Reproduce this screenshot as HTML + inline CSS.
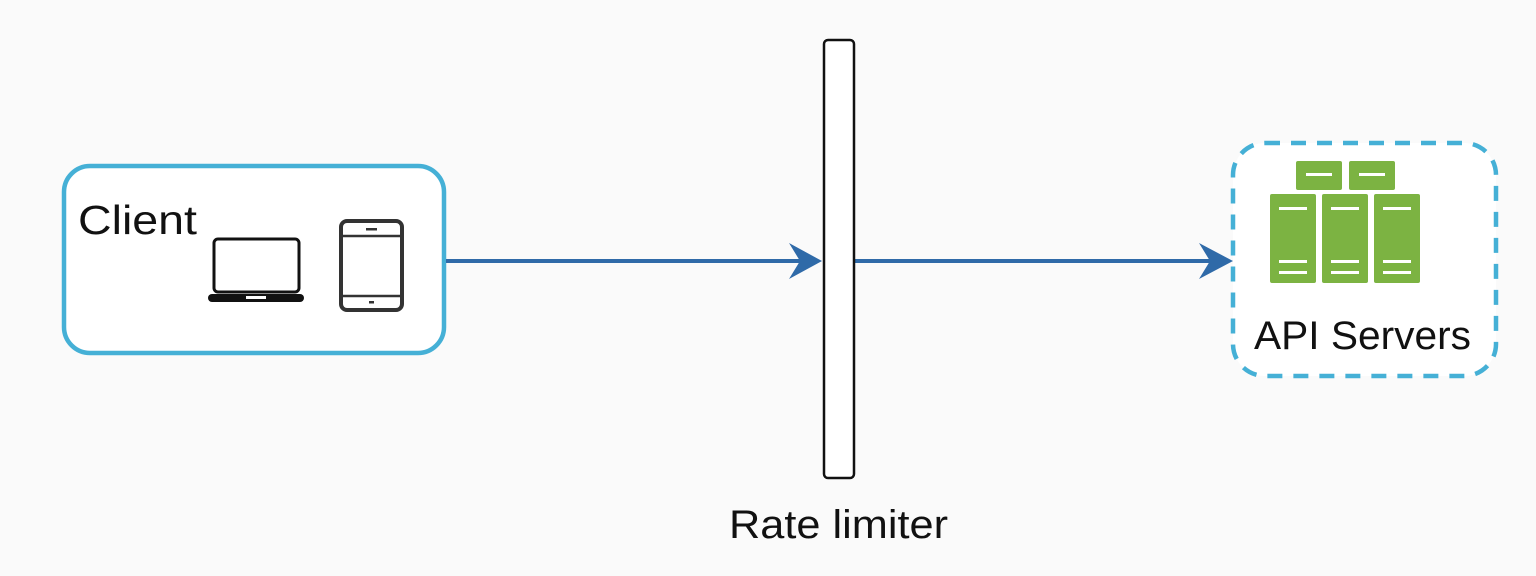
<!DOCTYPE html>
<html><head><meta charset="utf-8"><style>
html,body{margin:0;padding:0;background:#fafafa;}
svg{display:block}
text{font-family:"Liberation Sans",Arial,sans-serif;fill:#111}
</style></head><body>
<svg width="1536" height="576" viewBox="0 0 1536 576">
<rect x="0" y="0" width="1536" height="576" fill="#fafafa"/>
<g>
<rect x="64" y="166" width="380" height="187" rx="26" fill="#fff" stroke="#45b0d6" stroke-width="4.5"/>
<text x="78" y="234" font-size="41" textLength="119" lengthAdjust="spacingAndGlyphs">Client</text>
<g>
<rect x="214" y="239" width="85" height="53" rx="4" fill="none" stroke="#111" stroke-width="3"/>
<rect x="208" y="294" width="96" height="8" rx="4" fill="#111"/>
<rect x="246" y="296" width="20" height="3" fill="#fff"/>
</g>
<g>
<rect x="341" y="221" width="61" height="89" rx="6" fill="none" stroke="#333" stroke-width="4"/>
<line x1="343" y1="236" x2="400" y2="236" stroke="#333" stroke-width="2.5"/>
<line x1="343" y1="296" x2="400" y2="296" stroke="#333" stroke-width="2.5"/>
<rect x="366" y="228" width="11" height="2.5" fill="#333"/>
<rect x="369" y="301" width="5" height="2.5" fill="#333"/>
</g>
</g>
<g>
<line x1="446" y1="261" x2="805" y2="261" stroke="#2f6aa8" stroke-width="4"/>
<path d="M822 261 L789 243 L800 261 L789 279 Z" fill="#2f6aa8"/>
</g>
<g>
<line x1="854" y1="261" x2="1215" y2="261" stroke="#2f6aa8" stroke-width="4"/>
<path d="M1233 261 L1199 243 L1210 261 L1199 279 Z" fill="#2f6aa8"/>
</g>
<rect x="824" y="40" width="30" height="438" rx="4" fill="#fff" stroke="#111" stroke-width="2.5"/>
<text x="729" y="538" font-size="40" textLength="219" lengthAdjust="spacingAndGlyphs">Rate limiter</text>
<g>
<rect x="1233" y="143" width="263" height="233" rx="32" fill="#fff" stroke="#45b0d6" stroke-width="4.5" stroke-dasharray="15 11"/>
<g fill="#7cb342">
<rect x="1296" y="161" width="46" height="29" rx="2"/>
<rect x="1349" y="161" width="46" height="29" rx="2"/>
<rect x="1270" y="194" width="46" height="89" rx="2"/>
<rect x="1322" y="194" width="46" height="89" rx="2"/>
<rect x="1374" y="194" width="46" height="89" rx="2"/>
</g>
<g fill="#fff">
<rect x="1306" y="173" width="26" height="3"/><rect x="1359" y="173" width="26" height="3"/>
<rect x="1279" y="207" width="28" height="3"/><rect x="1331" y="207" width="28" height="3"/><rect x="1383" y="207" width="28" height="3"/>
<rect x="1279" y="260" width="28" height="3"/><rect x="1331" y="260" width="28" height="3"/><rect x="1383" y="260" width="28" height="3"/>
<rect x="1279" y="271" width="28" height="3"/><rect x="1331" y="271" width="28" height="3"/><rect x="1383" y="271" width="28" height="3"/>
</g>
<text x="1254" y="349" font-size="40" textLength="217" lengthAdjust="spacingAndGlyphs">API Servers</text>
</g>
</svg>
</body></html>
